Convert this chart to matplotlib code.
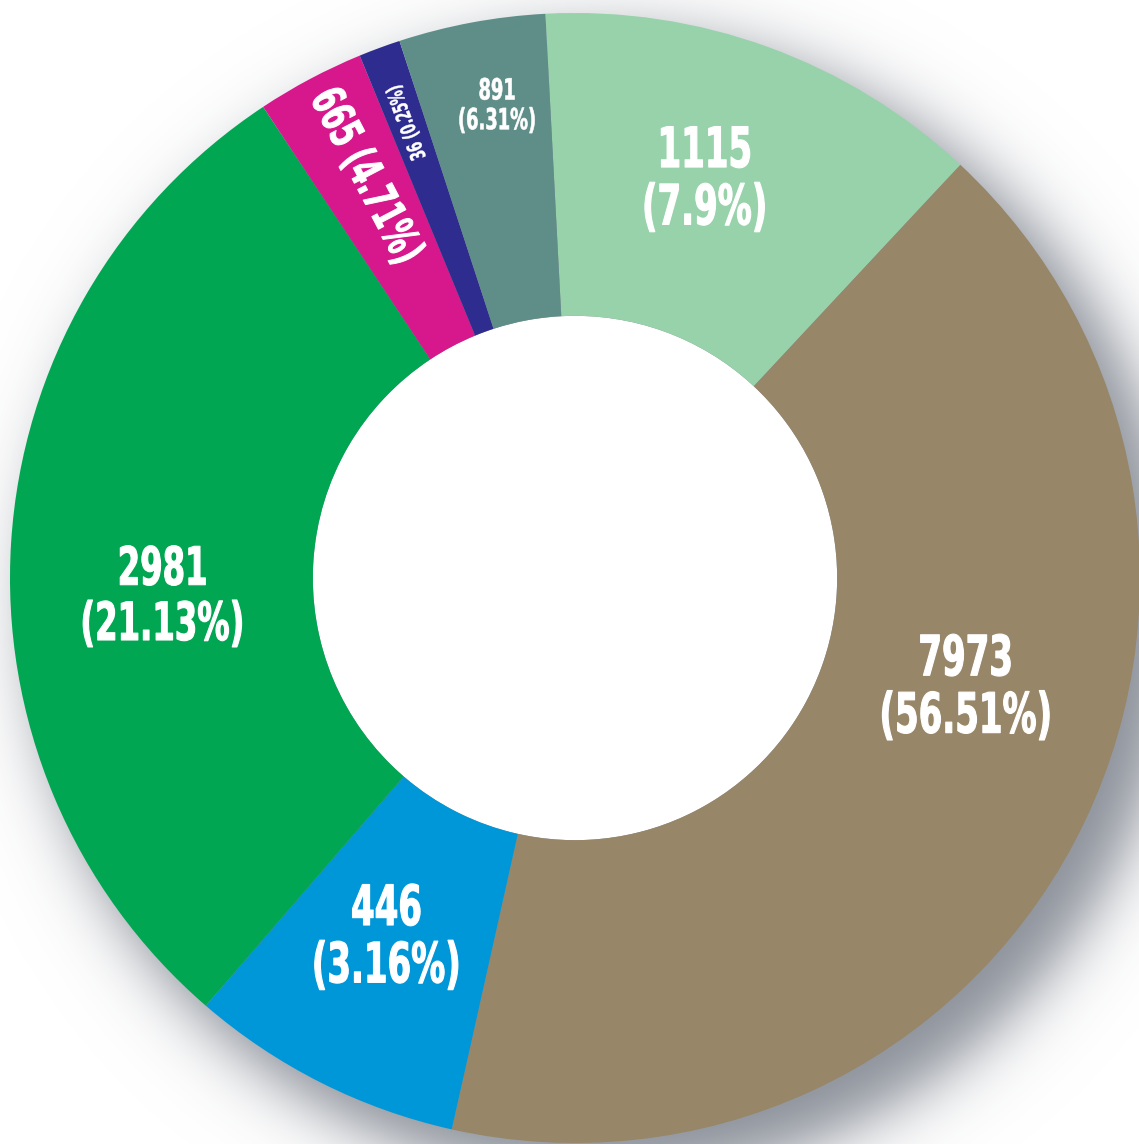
import numpy as np
import matplotlib.pyplot as plt
from matplotlib.patches import Circle
from matplotlib.patheffects import AbstractPathEffect
from matplotlib.transforms import Affine2D

# data, clockwise from the top
values = [1115, 7973, 446, 2981, 665, 36, 891]
percents = ["7.9%", "56.51%", "3.16%", "21.13%", "4.71%", "0.25%", "6.31%"]
# the original graphic is not drawn to scale: slice angles (degrees)
drawn_deg = [46.0, 149.6, 28.2, 105.7, 11.1, 4.3, 15.1]
colors = ["#97d2aa", "#978668", "#0097d9", "#00a651", "#d6188c", "#2e2d8f", "#5f8e89"]

# label layout: fraction along the slice, fraction of radius, font size, text direction
lab_frac = [0.46, 0.42, 0.53, 0.44, 0.53, 0.5, 0.58]
lab_rad = [0.74, 0.72, 0.72, 0.73, 0.80, 0.86, 0.846]
lab_size = [40, 40, 40, 38, 33, 15, 21]
lab_dir = [None, None, None, None, "in", "out", None]


class Squeeze(AbstractPathEffect):
    """narrow and thicken the glyphs (heavy condensed look)"""
    def __init__(self, sx, lw):
        super().__init__()
        self.sx = sx
        self.lw = lw

    def draw_path(self, renderer, gc, tpath, affine, rgbFace=None):
        v = tpath.vertices
        mid = (v[:, 0].min() + v[:, 0].max()) / 2 if len(v) else 0
        sq = Affine2D().translate(-mid, 0).scale(self.sx, 1).translate(mid, 0)
        gc0 = renderer.new_gc()
        gc0.copy_properties(gc)
        gc0.set_linewidth(self.lw)
        gc0.set_foreground(rgbFace)
        gc0.set_joinstyle("round")
        renderer.draw_path(gc0, tpath, sq + affine, rgbFace)
        gc0.restore()


fig = plt.figure(figsize=(11.39, 11.44), dpi=100)
ax = fig.add_axes([0, 0, 1, 1])

cx, cy, R = 575, 566, 565
hole = R * 0.464
start = 93

# soft drop shadow, down and to the right
gx, gy = np.meshgrid(np.arange(1139) + 0.5, np.arange(1144) + 0.5)
d = np.hypot(gx - (cx + 30), gy - (cy - 30))
sh = 0.5 * (1 - np.tanh((d - (R + 8)) / 38.0))
rgba = np.zeros((1144, 1139, 4))
rgba[..., :3] = np.array([0x8a, 0x8f, 0x98]) / 255
rgba[..., 3] = sh
ax.imshow(rgba, extent=(0, 1139, 0, 1144), origin="lower", zorder=0,
          interpolation="bilinear")
ax.add_patch(Circle((cx, cy), hole, color="white", lw=0, zorder=0.5))

ax.pie(drawn_deg, colors=colors, startangle=start, counterclock=False,
       radius=R, center=(cx, cy), frame=True,
       wedgeprops=dict(width=R - hole, linewidth=0, zorder=1))

edges = start - np.concatenate([[0], np.cumsum(drawn_deg)])
for i in range(len(values)):
    a = np.deg2rad(edges[i] - lab_frac[i] * drawn_deg[i])
    x = cx + lab_rad[i] * R * np.cos(a)
    y = cy + lab_rad[i] * R * np.sin(a)
    if lab_dir[i] is None:
        txt = f"{values[i]}\n({percents[i]})"
        rot = 0
    else:
        txt = f"{values[i]} ({percents[i]})"
        rot = np.rad2deg(a) - (180 if lab_dir[i] == "in" else 0)
    ax.text(x, y, txt, ha="center", va="center", rotation=rot,
            rotation_mode="anchor", color="white", fontsize=lab_size[i],
            fontweight="bold", family="DejaVu Sans", fontstretch="condensed",
            linespacing=1.08, zorder=3,
            path_effects=[Squeeze(0.68, lab_size[i] / 48)])

ax.set_xlim(0, 1139)
ax.set_ylim(0, 1144)
ax.set_aspect("equal")
ax.axis("off")

fig.savefig("out.png", dpi=100, facecolor="white")
